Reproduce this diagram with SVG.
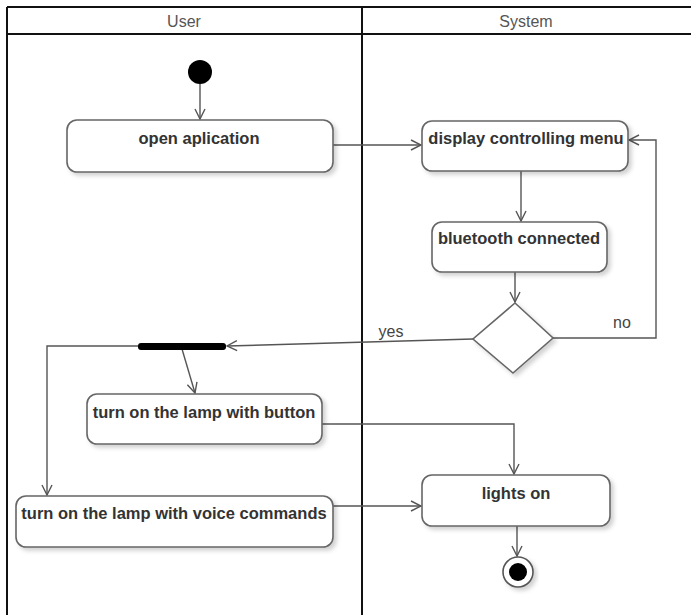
<svg xmlns="http://www.w3.org/2000/svg" width="691" height="615" viewBox="0 0 691 615">
<style>
.lane{stroke:#111;stroke-width:2;fill:none}
.hdr{font-family:"Liberation Sans",Arial,sans-serif;font-size:16px;fill:#555;text-anchor:middle}
.box{fill:#fff;stroke:#666;stroke-width:1.6;filter:url(#sh)}
.lbl{font-family:"Liberation Sans",Arial,sans-serif;font-size:16.5px;font-weight:bold;fill:#333;text-anchor:middle}
.edge{fill:none;stroke:#555;stroke-width:1.4;marker-end:url(#arr)}
.line{fill:none;stroke:#555;stroke-width:1.4}
.elbl{font-family:"Liberation Sans",Arial,sans-serif;font-size:16px;fill:#444;text-anchor:middle}
</style>
<defs>
<filter id="sh" x="-10%" y="-20%" width="130%" height="160%">
<feDropShadow dx="3" dy="3" stdDeviation="2" flood-color="#000" flood-opacity="0.18"/>
</filter>
<marker id="arr" markerUnits="userSpaceOnUse" markerWidth="12" markerHeight="12" viewBox="0 0 12 12" refX="11" refY="6" orient="auto">
<path d="M1,1 L11,6 L1,11" fill="none" stroke="#555" stroke-width="1.4"/>
</marker>
</defs>
<rect width="691" height="615" fill="#fff"/>
<g id="swimlanes">
<line class="lane" x1="7" y1="7" x2="691" y2="7"/>
<line class="lane" x1="7" y1="34" x2="691" y2="34"/>
<line class="lane" x1="7" y1="7" x2="7" y2="615"/>
<line class="lane" x1="362" y1="7" x2="362" y2="615"/>
<text class="hdr" x="184" y="27">User</text>
<text class="hdr" x="526" y="27">System</text>
</g>
<g id="connectors">
<path class="edge" d="M200,84 L200,119"/>
<path class="edge" d="M333,145 L421,145"/>
<path class="edge" d="M521,171 L521,221"/>
<path class="edge" d="M515,272 L515,302"/>
<path class="edge" d="M553,338 L656,338 L656,140 L629,140"/>
<text class="elbl" x="622" y="328">no</text>
<path class="edge" d="M473,339 L227,346"/>
<text class="elbl" x="391" y="337">yes</text>
<path class="edge" d="M138,346 L47,346 L47,495"/>
<path class="edge" d="M182,349 L195,393"/>
<path class="edge" d="M322,424 L514,424 L514,474"/>
<path class="edge" d="M333,506 L421,506"/>
<path class="edge" d="M517,526 L517,556"/>
</g>
<g id="start">
<circle cx="200" cy="72" r="12" fill="#000"/>
</g>
<g id="open-aplication">
<rect class="box" x="67" y="120" width="266" height="52" rx="10"/>
<text class="lbl" x="199" y="144">open aplication</text>
</g>
<g id="display-controlling-menu">
<rect class="box" x="422" y="121" width="206" height="50" rx="10"/>
<text class="lbl" x="526" y="144">display controlling menu</text>
</g>
<g id="bluetooth-connected">
<rect class="box" x="432" y="222" width="175" height="50" rx="10"/>
<text class="lbl" x="519" y="244">bluetooth connected</text>
</g>
<g id="decision">
<polygon points="515,303 553,338 513,373 473,339" fill="#fff" stroke="#666" stroke-width="1.6" filter="url(#sh)"/>
</g>
<g id="fork">
<rect x="138" y="343" width="88" height="7" rx="3" fill="#000"/>
</g>
<g id="turn-on-button">
<rect class="box" x="87" y="394" width="235" height="50" rx="10"/>
<text class="lbl" x="204" y="418">turn on the lamp with button</text>
</g>
<g id="turn-on-voice">
<rect class="box" x="16" y="496" width="317" height="51" rx="10"/>
<text class="lbl" x="174" y="519">turn on the lamp with voice commands</text>
</g>
<g id="lights-on">
<rect class="box" x="422" y="475" width="188" height="51" rx="10"/>
<text class="lbl" x="516" y="499">lights on</text>
</g>
<g id="end">
<circle cx="518" cy="572" r="15" fill="#fff" stroke="#555" stroke-width="1.6" filter="url(#sh)"/>
<circle cx="518" cy="572" r="9" fill="#000"/>
</g>
</svg>
